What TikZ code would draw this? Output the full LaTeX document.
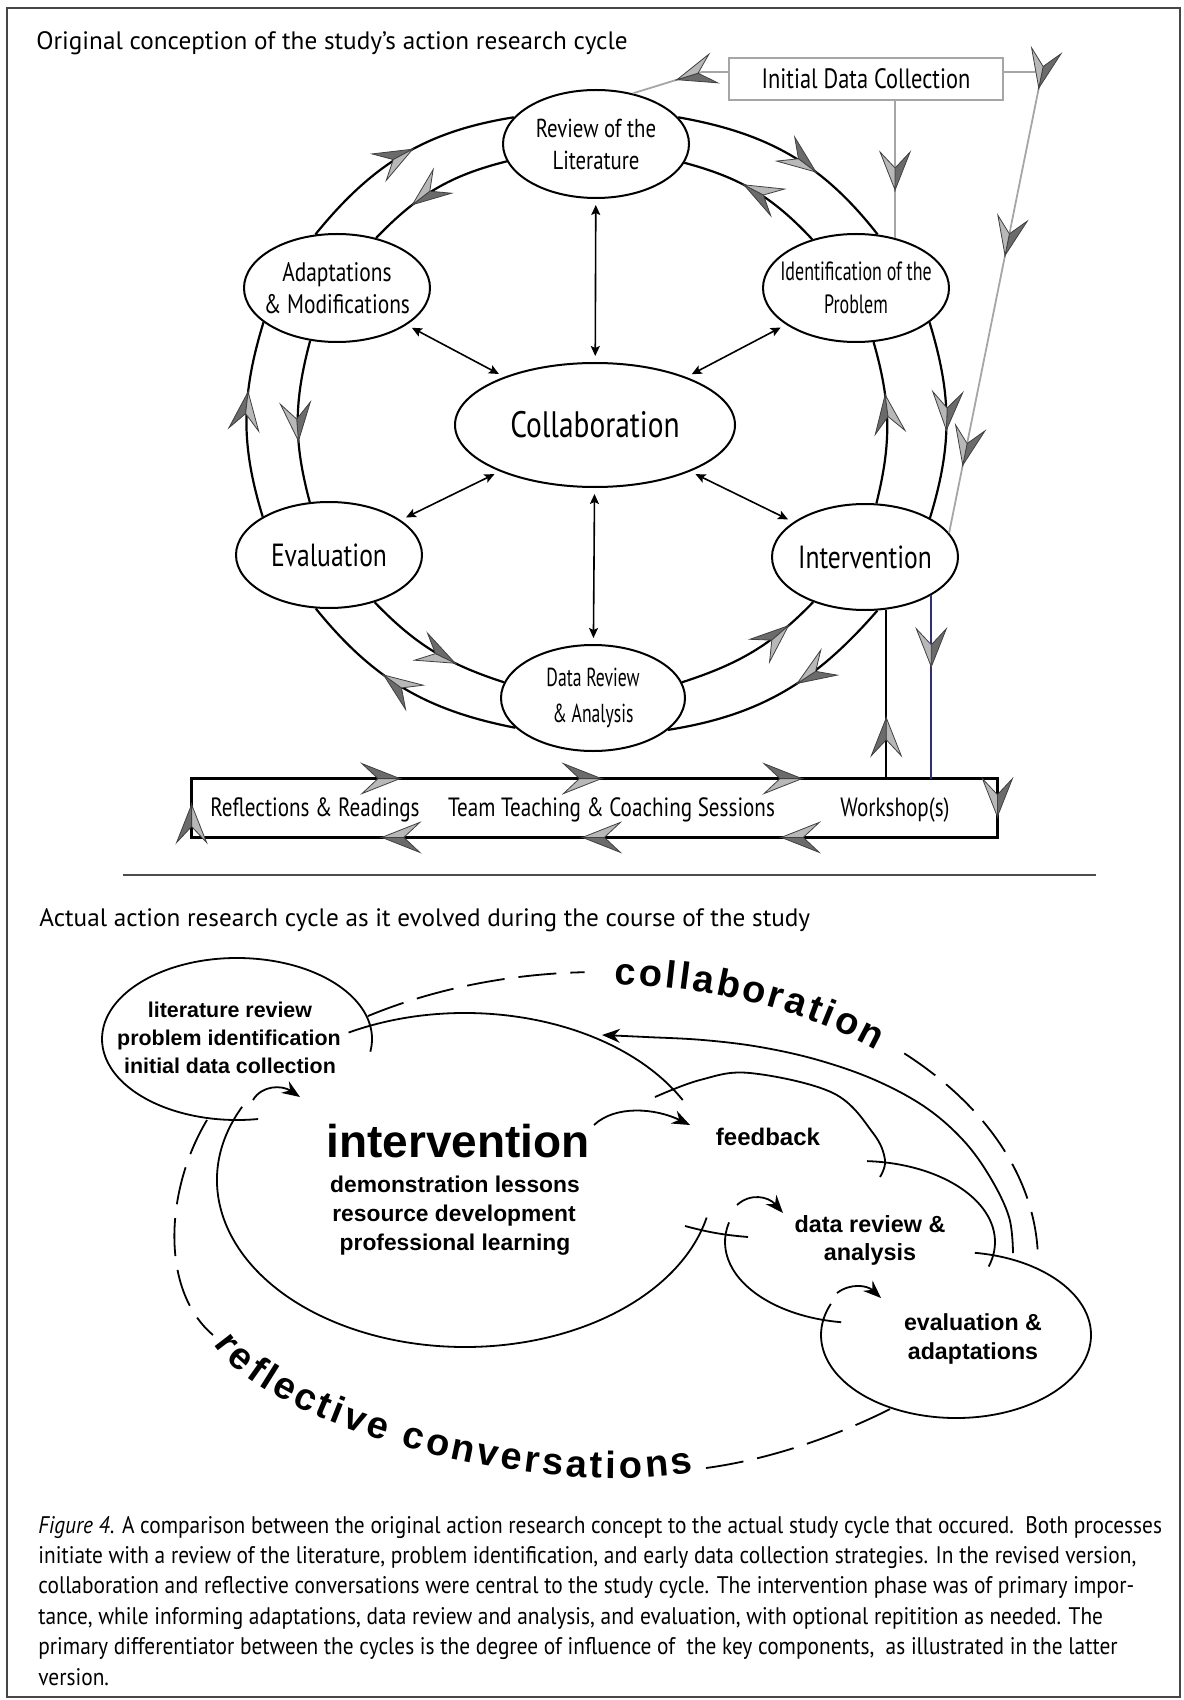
\documentclass[tikz,border=0pt]{standalone}
\usepackage{fontspec}
\setmainfont{PT Sans}
\newfontfamily\condfont[FakeStretch=0.8]{PT Sans}
\newfontfamily\narrowfont[FakeStretch=0.68]{PT Sans}
\newfontfamily\capfont[FakeStretch=0.89]{PT Sans}
\newfontfamily\roundfont{Liberation Sans}
\usetikzlibrary{arrows.meta,shapes.geometric,decorations.markings,decorations.text,calc}
\definecolor{navyline}{RGB}{45,45,130}
\definecolor{framegray}{RGB}{70,70,70}

% two-tone barbed arrowhead, tip at the local origin, pointing along the path
\newcommand{\barbtip}{%
  \filldraw[black!75,fill=black!58,line width=0.4pt,solid] (0,0) -- (-19pt,7.5pt) -- (-11pt,0) -- cycle;
  \filldraw[black!75,fill=black!28,line width=0.4pt,solid] (0,0) -- (-11pt,0) -- (-19pt,-7.5pt) -- cycle;}

\tikzset{
  blackhead/.tip={Stealth[length=9pt,width=7pt,inset=3pt]},
  smallhead/.tip={Stealth[length=5pt,width=4.5pt,inset=1pt]},
  midhead/.style={postaction={decorate,decoration={markings,mark=at position #1 with {\barbtip}}}},
  ringnode/.style={ellipse,draw=black,line width=1pt,minimum width=93pt,minimum height=54pt,inner sep=0pt},
  ringtext/.style={align=center,inner sep=0pt},
  ringline/.style={line width=1.1pt},
  spoke/.style={line width=0.8pt,arrows={smallhead-smallhead},shorten <=3pt,shorten >=3pt},
  graylink/.style={draw=gray!70,line width=0.9pt},
  boxtext/.style={font=\condfont\fontsize{13.2}{15}\selectfont,inner sep=0pt},
  sketch/.style={line width=0.9pt},
  dashline/.style={line width=0.9pt,dash pattern=on 19pt off 7pt},
  roundtext/.style={font=\roundfont\bfseries,inner sep=0pt,anchor=base},
  captionline/.style={font=\capfont\fontsize{12}{14}\selectfont,inner sep=0pt,anchor=base west}
}

\begin{document}
\begin{tikzpicture}[x=0.5pt,y=0.5pt]
\useasboundingbox (0,0) rectangle (1183,-1700);
\draw[framegray,line width=1.2pt] (7,-8) rectangle (1180,-1697);

% ---------- upper diagram ----------
\node[anchor=base west,inner sep=0pt,font=\fontsize{12.6}{14}\selectfont] (title1) at (36,-50)
  {Original conception of the study’s action research cycle};

\node[ringnode] (R) at (596,-144) {};
\node[ringnode] (A) at (337,-288) {};
\node[ringnode] (I) at (856,-288) {};
\node[ringnode,minimum width=140pt,minimum height=62pt] (C) at (595,-425) {};
\node[ringnode,minimum height=53pt] (E) at (329,-555) {};
\node[ringnode,minimum height=53pt] (V) at (865,-557) {};
\node[ringnode,minimum width=92pt,minimum height=53pt] (D) at (593,-698) {};

\node[ringtext,font=\condfont\fontsize{13}{16}\selectfont] (Rt) at (R) {Review of the\\Literature};
\node[ringtext,font=\condfont\fontsize{13.4}{16}\selectfont] (At) at (A) {Adaptations\\\& Modifications};
\node[ringtext,font=\narrowfont\fontsize{13.2}{16.5}\selectfont] (It) at (I) {Identification of the\\Problem};
\node[ringtext,font=\condfont\fontsize{18.4}{20}\selectfont] (Ct) at (C) {Collaboration};
\node[ringtext,font=\condfont\fontsize{16}{18}\selectfont] (Et) at (E) {Evaluation};
\node[ringtext,font=\condfont\fontsize{16}{18}\selectfont] (Vt) at (V) {Intervention};
\node[ringtext,font=\narrowfont\fontsize{13}{18}\selectfont] (Dt) at (D) {Data Review\\\& Analysis};

% outer ring, clockwise
\draw[ringline,midhead=0.55] (A.112) to[out=51,in=189] (R.162);
\draw[ringline,midhead=0.63] (R.18) to[out=-10,in=128] (I.68);
\draw[ringline,midhead=0.55] (I.-25) to[out=-73,in=73] (V.31);
\draw[ringline,midhead=0.44] (V.-77) to[out=229,in=9] (D.-23);
\draw[ringline,midhead=0.6] (D.201) to[out=169,in=309] (E.256);
\draw[ringline,midhead=0.64] (E.150) to[out=107,in=253] (A.205);
% inner ring, counter-clockwise
\draw[ringline,midhead=0.68] (R.191) to[out=194,in=46] (A.52);
\draw[ringline,midhead=0.62] (A.243) to[out=-105,in=105] (E.110);
\draw[ringline,midhead=0.66] (E.-46) to[out=-46,in=162] (D.170);
\draw[ringline,midhead=0.78] (D.10) to[out=18,in=226] (V.221);
\draw[ringline,midhead=0.67] (V.78) to[out=76,in=286] (I.-72);
\draw[ringline,midhead=0.58] (I.132) to[out=133,in=345] (R.-12);

% spokes to the centre
\draw[spoke] (R) -- (C);
\draw[spoke] (A) -- (C);
\draw[spoke] (I) -- (C);
\draw[spoke] (E) -- (C);
\draw[spoke] (V) -- (C);
\draw[spoke] (D) -- (C);

% initial data collection
\node[draw=gray!70,line width=1pt,minimum width=137pt,minimum height=21pt,inner sep=0pt,
      font=\condfont\fontsize{14}{15}\selectfont] (idc) at (866,-79) {Initial Data Collection};
\coordinate (idcL) at ($(idc.west)+(0,7)$);
\coordinate (idcR) at ($(idc.east)+(0,7)$);
\coordinate (kinkL) at (702,-72);
\coordinate (kinkR) at (1042,-72);
\draw[graylink,midhead=0.53] (idcL) -- (kinkL) -- (R.54);
\draw[graylink,midhead=0.65] (idc.south -| I.52) -- (I.52);
\draw[graylink,postaction={decorate,decoration={markings,
    mark=at position 0.107 with {\barbtip},
    mark=at position 0.443 with {\barbtip},
    mark=at position 0.864 with {\barbtip}}}]
  (idcR) -- (kinkR) -- (V.16);

% workshop strip
\node[minimum width=402.5pt,minimum height=29pt,inner sep=0pt] (ws) at (594.5,-808) {};
\draw[line width=1.2pt,postaction={decorate,decoration={markings,
    mark=at position 0.1205 with {\barbtip},
    mark=at position 0.237 with {\barbtip},
    mark=at position 0.353 with {\barbtip},
    mark=at position 0.488 with {\barbtip},
    mark=at position 0.625 with {\barbtip},
    mark=at position 0.740 with {\barbtip},
    mark=at position 0.856 with {\barbtip},
    mark=at position 0.985 with {\barbtip}}}]
  (ws.north west) -- (ws.north east) -- (ws.south east) -- (ws.south west) -- cycle;
\node[boxtext] (wsA) at (315,-810) {Reflections \& Readings};
\node[boxtext] (wsB) at (611.5,-810) {Team Teaching \& Coaching Sessions};
\node[boxtext] (wsC) at (895,-810) {Workshop(s)};

\draw[line width=1pt,midhead=0.36] (ws.north -| V.-68) -- (V.-68);
\draw[navyline,line width=1pt,midhead=0.39] (V.-30) -- (V.-30 |- ws.north);

% separator
\draw[gray!60!black,line width=1.3pt] (123,-875) -- (1096,-875);

% ---------- lower diagram ----------
\node[anchor=base west,inner sep=0pt,font=\fontsize{12.6}{14}\selectfont] (title2) at (39,-926)
  {Actual action research cycle as it evolved during the course of the study};

\coordinate (litc) at (237,-1039);
\coordinate (bigc) at (465,-1180);
\coordinate (datc) at (860,-1242);
\coordinate (evc) at (956,-1335);
\coordinate (colc) at (600,-1262);

\draw[sketch] ($(litc)+(-9:67.5pt and 40.5pt)$) arc[start angle=-9,end angle=279,x radius=67.5pt,y radius=40.5pt];
\draw[sketch] ($(bigc)+(118:124pt and 83.5pt)$) arc[start angle=118,end angle=28.6,x radius=124pt,y radius=83.5pt];
\draw[sketch] ($(bigc)+(154:124pt and 83.5pt)$) arc[start angle=154,end angle=347,x radius=124pt,y radius=83.5pt];
\draw[sketch] plot[smooth,tension=0.6] coordinates {(655,-1097) (700,-1080) (750,-1073) (833,-1093) (873,-1133) (885,-1160) (880,-1177)};
\draw[sketch] (685,-1226) to[bend right=5] (748,-1237);
\draw[sketch] ($(datc)+(87:67.5pt and 40.5pt)$) arc[start angle=87,end angle=-17.6,x radius=67.5pt,y radius=40.5pt];
\draw[sketch] ($(datc)+(166:67.5pt and 40.5pt)$) arc[start angle=166,end angle=262,x radius=67.5pt,y radius=40.5pt];
\draw[sketch] ($(evc)+(82:67.5pt and 41.5pt)$) arc[start angle=82,end angle=-202,x radius=67.5pt,y radius=41.5pt];

\draw[sketch,-blackhead] plot[smooth,tension=0.6] coordinates {(1013,-1253) (1009,-1217) (990,-1177) (963,-1140) (925,-1107) (875,-1080) (818,-1060) (760,-1047) (703,-1040) (646,-1037) (602,-1035)};

\draw[sketch,-blackhead] (253,-1100) .. controls (262,-1085) and (282,-1085) .. (300,-1097);
\draw[sketch,-blackhead] (594,-1125) .. controls (615,-1105) and (655,-1108) .. (690,-1125);
\draw[sketch,-blackhead] (737,-1205) .. controls (750,-1193) and (768,-1196) .. (783,-1213);
\draw[sketch,-blackhead] (837,-1293) .. controls (850,-1283) and (867,-1285) .. (881,-1298);

% collaboration arc
\draw[dashline] ($(colc)+(122:219pt and 145pt)$) arc[start angle=122,end angle=92,x radius=219pt,y radius=145pt];
\path[decorate,decoration={text along path,
    text={|\roundfont\bfseries\fontsize{19}{21}\selectfont|collaboration},
    text align={fit to path},raise=-6pt}]
  ($(colc)+(88:219pt and 145pt)$) arc[start angle=88,end angle=50,x radius=219pt,y radius=145pt];
\draw[dashline] ($(colc)+(46:219pt and 145pt)$) arc[start angle=46,end angle=1,x radius=219pt,y radius=145pt];

% reflective conversations arc
\draw[dashline] (207,-1120) .. controls (165,-1190) and (160,-1290) .. (213,-1335);
\path[decorate,decoration={text along path,
    text={|\roundfont\bfseries\fontsize{19}{21}\selectfont|reflective conversations},
    text align={fit to path},raise=-5pt}]
  (222,-1338) .. controls (272,-1418) and (543,-1490) .. (692,-1462);
\draw[dashline] (706,-1468) .. controls (780,-1458) and (850,-1430) .. (898,-1405);

% labels
\node[roundtext,font=\roundfont\bfseries\fontsize{10.7}{12}\selectfont] (lit1) at (230,-1017) {literature review};
\node[roundtext,font=\roundfont\bfseries\fontsize{10.7}{12}\selectfont] (lit2) at (229,-1045) {problem identification};
\node[roundtext,font=\roundfont\bfseries\fontsize{10.7}{12}\selectfont] (lit3) at (230,-1073) {initial data collection};
\node[roundtext,font=\roundfont\bfseries\fontsize{23}{26}\selectfont] (int0) at (458,-1157) {intervention};
\node[roundtext,font=\roundfont\bfseries\fontsize{11.4}{13}\selectfont] (int1) at (455,-1192) {demonstration lessons};
\node[roundtext,font=\roundfont\bfseries\fontsize{11.4}{13}\selectfont] (int2) at (454,-1221) {resource development};
\node[roundtext,font=\roundfont\bfseries\fontsize{11.4}{13}\selectfont] (int3) at (455,-1250) {professional learning};
\node[roundtext,font=\roundfont\bfseries\fontsize{12}{14}\selectfont] (fb) at (768,-1145) {feedback};
\node[roundtext,font=\roundfont\bfseries\fontsize{11.7}{13}\selectfont] (dr1) at (870,-1232) {data review \&};
\node[roundtext,font=\roundfont\bfseries\fontsize{11.7}{13}\selectfont] (dr2) at (870,-1260) {analysis};
\node[roundtext,font=\roundfont\bfseries\fontsize{11.6}{13}\selectfont] (ev1) at (973,-1330) {evaluation \&};
\node[roundtext,font=\roundfont\bfseries\fontsize{11.6}{13}\selectfont] (ev2) at (973,-1359) {adaptations};

% caption
\node[captionline] (cap1) at (38,-1533) {\textit{Figure 4}. A comparison between the original action research concept to the actual study cycle that occured.\ \ Both processes};
\node[captionline] (cap2) at (38,-1563.4) {initiate with a review of the literature, problem identification, and early data collection strategies. In the revised version,};
\node[captionline] (cap3) at (38,-1593.8) {collaboration and reflective conversations were central to the study cycle. The intervention phase was of primary impor-};
\node[captionline] (cap4) at (38,-1624.2) {tance, while informing adaptations, data review and analysis, and evaluation, with optional repitition as needed. The};
\node[captionline] (cap5) at (38,-1654.6) {primary differentiator between the cycles is the degree of influence of\ \ the key components,\ \ as illustrated in the latter};
\node[captionline] (cap6) at (38,-1685) {version.};
\end{tikzpicture}
\end{document}
